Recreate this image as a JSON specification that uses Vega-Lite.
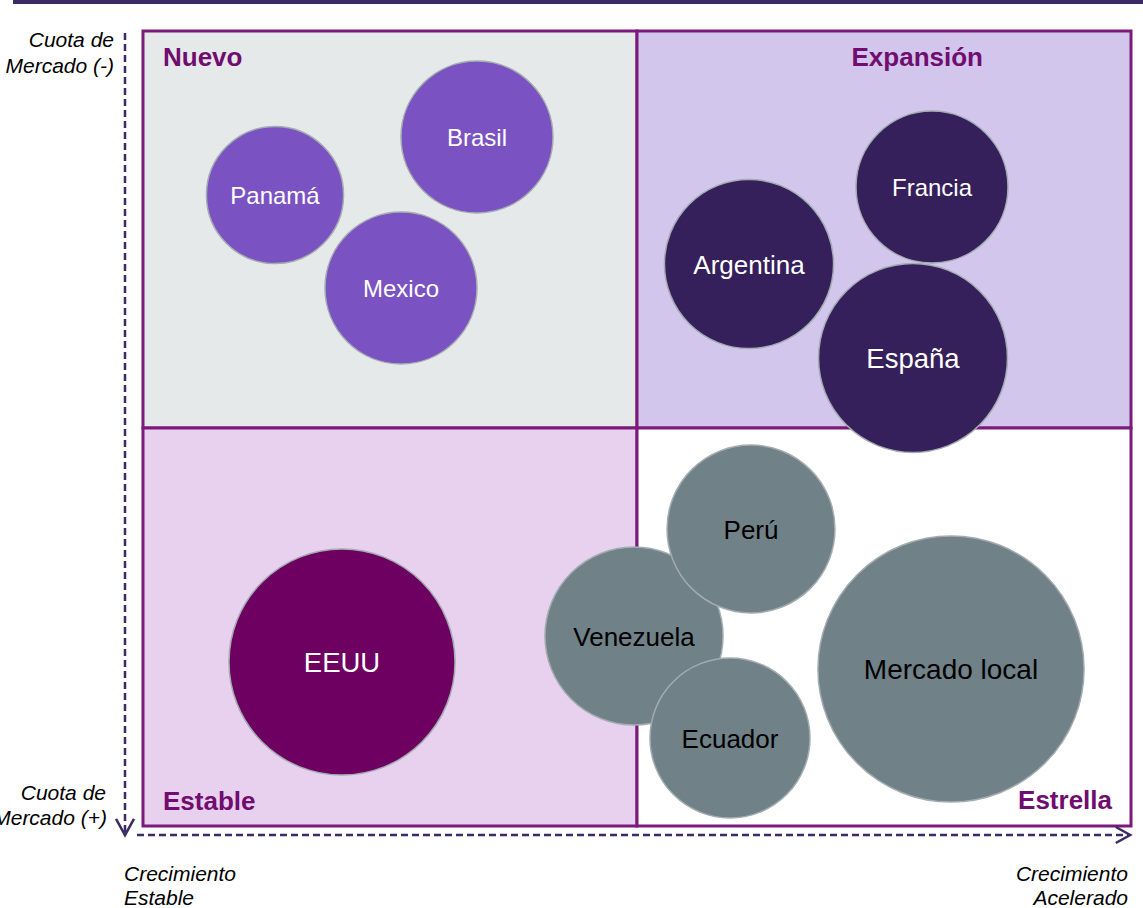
{
  "$schema": "https://vega.github.io/schema/vega-lite/v6.json",
  "autosize": {"type": "none"},
  "width": 1143,
  "height": 908,
  "padding": 0,
  "background": "#ffffff",
  "config": {"view": {"stroke": null}, "font": "Liberation Sans"},
  "datasets": {
    "cuadrantes": [
      {"cuadrante": "Nuevo", "x0": 143, "x1": 637, "y0": 31, "y1": 428},
      {"cuadrante": "Expansión", "x0": 637, "x1": 1131, "y0": 31, "y1": 428},
      {"cuadrante": "Estable", "x0": 143, "x1": 637, "y0": 428, "y1": 826},
      {"cuadrante": "Estrella", "x0": 637, "x1": 1131, "y0": 428, "y1": 826}
    ],
    "titulos": [
      {"titulo": "Nuevo", "lado": "izq", "x": 163, "y": 66},
      {"titulo": "Estable", "lado": "izq", "x": 163, "y": 810},
      {"titulo": "Expansión", "lado": "der", "x": 983, "y": 66},
      {"titulo": "Estrella", "lado": "der", "x": 1112, "y": 809}
    ],
    "paises": [
      {"pais": "Panamá", "grupo": "Nuevo", "crecimiento": 275, "cuota": 195, "valor": 188},
      {"pais": "Brasil", "grupo": "Nuevo", "crecimiento": 477, "cuota": 137, "valor": 231},
      {"pais": "Mexico", "grupo": "Nuevo", "crecimiento": 401, "cuota": 288, "valor": 231},
      {"pais": "Argentina", "grupo": "Expansión", "crecimiento": 749, "cuota": 264, "valor": 286},
      {"pais": "Francia", "grupo": "Expansión", "crecimiento": 932, "cuota": 187, "valor": 231},
      {"pais": "España", "grupo": "Expansión", "crecimiento": 913, "cuota": 358, "valor": 357},
      {"pais": "Venezuela", "grupo": "Estrella", "crecimiento": 634, "cuota": 636, "valor": 317},
      {"pais": "Perú", "grupo": "Estrella", "crecimiento": 751, "cuota": 529, "valor": 282},
      {"pais": "Ecuador", "grupo": "Estrella", "crecimiento": 730, "cuota": 738, "valor": 256},
      {"pais": "Mercado local", "grupo": "Estrella", "crecimiento": 951, "cuota": 669, "valor": 708},
      {"pais": "EEUU", "grupo": "Estable", "crecimiento": 342, "cuota": 662, "valor": 511}
    ],
    "ejes": [
      {"eje": "vertical", "x0": 125, "x1": 125, "y0": 33, "y1": 833},
      {"eje": "horizontal", "x0": 137, "x1": 1129, "y0": 835, "y1": 835}
    ],
    "notas": [
      {"texto": "Cuota de", "lado": "der", "x": 114, "y": 47},
      {"texto": "Mercado (-)", "lado": "der", "x": 114, "y": 73},
      {"texto": "Cuota de", "lado": "der", "x": 106, "y": 800},
      {"texto": "Mercado (+)", "lado": "der", "x": 107, "y": 825},
      {"texto": "Crecimiento", "lado": "izq", "x": 124, "y": 881},
      {"texto": "Estable", "lado": "izq", "x": 124, "y": 905},
      {"texto": "Crecimiento", "lado": "der", "x": 1128, "y": 881},
      {"texto": "Acelerado", "lado": "der", "x": 1128, "y": 905}
    ]
  },
  "resolve": {"scale": {"fill": "independent", "size": "independent"}},
  "layer": [
    {
      "data": {"values": [{"x0": 13, "x1": 1143, "y": 2}]},
      "mark": {"type": "rule", "stroke": "#3c2a64", "strokeWidth": 4},
      "encoding": {
        "x": {"field": "x0", "type": "quantitative", "scale": {"domain": [0, 1143], "nice": false, "zero": false}, "axis": null},
        "x2": {"field": "x1"},
        "y": {"field": "y", "type": "quantitative", "scale": {"domain": [0, 908], "nice": false, "zero": false, "reverse": true}, "axis": null}
      }
    },
    {
      "data": {"name": "cuadrantes"},
      "mark": {"type": "rect", "stroke": "#7b1a7b", "strokeWidth": 3},
      "encoding": {
        "x": {"field": "x0", "type": "quantitative", "scale": {"domain": [0, 1143], "nice": false, "zero": false}, "axis": null},
        "x2": {"field": "x1"},
        "y": {"field": "y0", "type": "quantitative", "scale": {"domain": [0, 908], "nice": false, "zero": false, "reverse": true}, "axis": null},
        "y2": {"field": "y1"},
        "fill": {"field": "cuadrante", "type": "nominal", "legend": null,
          "scale": {"domain": ["Nuevo", "Expansión", "Estable", "Estrella"], "range": ["#e6e9e9", "#d3c6ec", "#e8d1ef", "#ffffff"]}}
      }
    },
    {
      "data": {"name": "ejes"},
      "mark": {"type": "rule", "stroke": "#3c2a64", "strokeWidth": 2.5, "strokeDash": [7, 4]},
      "encoding": {
        "x": {"field": "x0", "type": "quantitative", "scale": {"domain": [0, 1143], "nice": false, "zero": false}, "axis": null},
        "x2": {"field": "x1"},
        "y": {"field": "y0", "type": "quantitative", "scale": {"domain": [0, 908], "nice": false, "zero": false, "reverse": true}, "axis": null},
        "y2": {"field": "y1"}
      }
    },
    {
      "data": {"values": [{"x": 125, "y": 827}]},
      "mark": {"type": "point", "shape": "M-1,-0.9L0,0.9L1,-0.9", "filled": false, "stroke": "#3c2a64", "strokeWidth": 2.5, "size": 324, "opacity": 1},
      "encoding": {
        "x": {"field": "x", "type": "quantitative", "scale": {"domain": [0, 1143], "nice": false, "zero": false}, "axis": null},
        "y": {"field": "y", "type": "quantitative", "scale": {"domain": [0, 908], "nice": false, "zero": false, "reverse": true}, "axis": null}
      }
    },
    {
      "data": {"values": [{"x": 1123, "y": 835}]},
      "mark": {"type": "point", "shape": "M-0.9,-1L0.9,0L-0.9,1", "filled": false, "stroke": "#3c2a64", "strokeWidth": 2.5, "size": 256, "opacity": 1},
      "encoding": {
        "x": {"field": "x", "type": "quantitative", "scale": {"domain": [0, 1143], "nice": false, "zero": false}, "axis": null},
        "y": {"field": "y", "type": "quantitative", "scale": {"domain": [0, 908], "nice": false, "zero": false, "reverse": true}, "axis": null}
      }
    },
    {
      "data": {"name": "paises"},
      "mark": {"type": "circle", "stroke": "#a3acb0", "strokeWidth": 1.5, "opacity": 1},
      "encoding": {
        "x": {"field": "crecimiento", "type": "quantitative", "scale": {"domain": [0, 1143], "nice": false, "zero": false}, "axis": null},
        "y": {"field": "cuota", "type": "quantitative", "scale": {"domain": [0, 908], "nice": false, "zero": false, "reverse": true}, "axis": null},
        "size": {"field": "valor", "type": "quantitative", "legend": null, "scale": {"type": "linear", "domain": [0, 1000], "range": [0, 100000], "zero": true}},
        "fill": {"field": "grupo", "type": "nominal", "legend": null,
          "scale": {"domain": ["Nuevo", "Expansión", "Estable", "Estrella"], "range": ["#7b52c2", "#35205b", "#6d0060", "#718188"]}}
      }
    },
    {
      "data": {"name": "paises"},
      "mark": {"type": "text", "align": "center", "baseline": "middle", "dy": 2, "font": "Liberation Sans"},
      "encoding": {
        "x": {"field": "crecimiento", "type": "quantitative", "scale": {"domain": [0, 1143], "nice": false, "zero": false}, "axis": null},
        "y": {"field": "cuota", "type": "quantitative", "scale": {"domain": [0, 908], "nice": false, "zero": false, "reverse": true}, "axis": null},
        "text": {"field": "pais"},
        "size": {"field": "valor", "type": "quantitative", "legend": null, "scale": {"type": "threshold", "domain": [250, 340, 600], "range": [24, 26, 27.5, 28]}},
        "fill": {"field": "grupo", "type": "nominal", "legend": null,
          "scale": {"domain": ["Nuevo", "Expansión", "Estable", "Estrella"], "range": ["#ffffff", "#ffffff", "#ffffff", "#000000"]}}
      }
    },
    {
      "data": {"name": "titulos"},
      "transform": [{"filter": "datum.lado === 'izq'"}],
      "mark": {"type": "text", "align": "left", "baseline": "alphabetic", "font": "Liberation Sans", "fontWeight": "bold", "fontSize": 26, "color": "#710c70"},
      "encoding": {
        "x": {"field": "x", "type": "quantitative", "scale": {"domain": [0, 1143], "nice": false, "zero": false}, "axis": null},
        "y": {"field": "y", "type": "quantitative", "scale": {"domain": [0, 908], "nice": false, "zero": false, "reverse": true}, "axis": null},
        "text": {"field": "titulo"}
      }
    },
    {
      "data": {"name": "titulos"},
      "transform": [{"filter": "datum.lado === 'der'"}],
      "mark": {"type": "text", "align": "right", "baseline": "alphabetic", "font": "Liberation Sans", "fontWeight": "bold", "fontSize": 26, "color": "#710c70"},
      "encoding": {
        "x": {"field": "x", "type": "quantitative", "scale": {"domain": [0, 1143], "nice": false, "zero": false}, "axis": null},
        "y": {"field": "y", "type": "quantitative", "scale": {"domain": [0, 908], "nice": false, "zero": false, "reverse": true}, "axis": null},
        "text": {"field": "titulo"}
      }
    },
    {
      "data": {"name": "notas"},
      "transform": [{"filter": "datum.lado === 'izq'"}],
      "mark": {"type": "text", "align": "left", "baseline": "alphabetic", "font": "Liberation Sans", "fontStyle": "italic", "fontSize": 21, "color": "#000000"},
      "encoding": {
        "x": {"field": "x", "type": "quantitative", "scale": {"domain": [0, 1143], "nice": false, "zero": false}, "axis": null},
        "y": {"field": "y", "type": "quantitative", "scale": {"domain": [0, 908], "nice": false, "zero": false, "reverse": true}, "axis": null},
        "text": {"field": "texto"}
      }
    },
    {
      "data": {"name": "notas"},
      "transform": [{"filter": "datum.lado === 'der'"}],
      "mark": {"type": "text", "align": "right", "baseline": "alphabetic", "font": "Liberation Sans", "fontStyle": "italic", "fontSize": 21, "color": "#000000"},
      "encoding": {
        "x": {"field": "x", "type": "quantitative", "scale": {"domain": [0, 1143], "nice": false, "zero": false}, "axis": null},
        "y": {"field": "y", "type": "quantitative", "scale": {"domain": [0, 908], "nice": false, "zero": false, "reverse": true}, "axis": null},
        "text": {"field": "texto"}
      }
    }
  ]
}
